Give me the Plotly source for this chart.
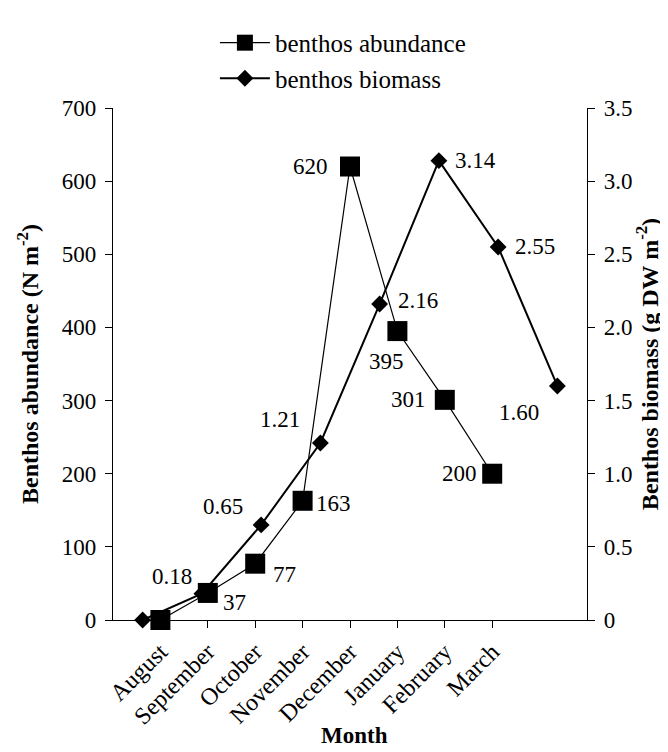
import plotly.graph_objects as go

# ---- data ----
months = ["August", "September", "October", "November", "December", "January", "February", "March"]
abundance = [0, 37, 77, 163, 620, 395, 301, 200]
biomass = [0, 0.18, 0.65, 1.21, 2.16, 3.14, 2.55, 1.60]
abundance_labels = ["", "37", "77", "163", "620", "395", "301", "200"]
biomass_labels = ["", "0.18", "0.65", "1.21", "2.16", "3.14", "2.55", "1.60"]
left_ticks = [0, 100, 200, 300, 400, 500, 600, 700]
right_tickvals = [0, 0.5, 1.0, 1.5, 2.0, 2.5, 3.0, 3.5]
right_ticktext = ["0", "0.5", "1.0", "1.5", "2.0", "2.5", "3.0", "3.5"]

# ---- style (label offsets in px: dx right, dy down) ----
abund_offsets = [None, (27, 10), (29, 11), (31, 3), (-40, 0), (-11, 30), (-36, 0), (-33, 0)]
biom_offsets = [None, (-30, -17), (-38, -18), (-40, -23), (38, -4), (37, 0), (37, 0), (-38, 27)]

FONT = "Liberation Serif"
FS = 23

fig = go.Figure()
fig.add_trace(go.Scatter(
    x=months, y=abundance, name="benthos abundance", mode="lines+markers",
    line=dict(color="black", width=1.2),
    marker=dict(symbol="square", size=20, color="black"),
    legendgroup="a", xaxis="x", yaxis="y", cliponaxis=False))
fig.add_trace(go.Scatter(
    x=months, y=biomass, name="benthos biomass", mode="lines+markers",
    line=dict(color="black", width=2),
    marker=dict(symbol="diamond", size=13, color="black"),
    legendgroup="b", xaxis="x2", yaxis="y2", cliponaxis=False))

annotations = []
for i, (lab, off) in enumerate(zip(abundance_labels, abund_offsets)):
    if off is None:
        continue
    annotations.append(dict(x=months[i], y=abundance[i], xref="x", yref="y", text=lab,
                            showarrow=False, xshift=off[0], yshift=-off[1],
                            font=dict(family=FONT, size=FS, color="black")))
for i, (lab, off) in enumerate(zip(biomass_labels, biom_offsets)):
    if off is None:
        continue
    annotations.append(dict(x=months[i], y=biomass[i], xref="x2", yref="y2", text=lab,
                            showarrow=False, xshift=off[0], yshift=-off[1],
                            font=dict(family=FONT, size=FS, color="black")))

# x-axis title as a paper annotation
annotations.append(dict(x=0.51, y=-0.2256, xref="paper", yref="paper", text="<b>Month</b>",
                        showarrow=False, xanchor="center", yanchor="middle",
                        font=dict(family=FONT, size=23, color="black")))

axis_common = dict(showline=True, linecolor="black", linewidth=1.3, showgrid=False,
                   zeroline=False, ticks="outside", ticklen=7, tickcolor="black",
                   tickwidth=1.3, ticklabelstandoff=4,
                   tickfont=dict(family=FONT, size=FS, color="black"))

fig.update_layout(
    width=668, height=752,
    margin=dict(l=105, r=89, t=89, b=140),
    paper_bgcolor="white", plot_bgcolor="white",
    font=dict(family=FONT, size=FS, color="black"),
    showlegend=True,
    legend=dict(x=0.215, y=1.172, xanchor="left", yanchor="top",
                font=dict(family=FONT, size=25, color="black"),
                bgcolor="rgba(0,0,0,0)", itemwidth=50, tracegroupgap=4,
                traceorder="normal"),
    xaxis=dict(type="category", categoryorder="array", categoryarray=months,
               range=[-1, 9], tickangle=-45, automargin=False,
               **{**axis_common, "tickfont": dict(family=FONT, size=24, color="black"),
                  "ticklabelstandoff": 0}),
    xaxis2=dict(type="category", categoryorder="array", categoryarray=months,
                range=[-0.5, 7.5], overlaying="x", visible=False),
    yaxis=dict(range=[0, 700], tickvals=left_ticks, automargin=False,
               title=dict(text="<b>Benthos abundance (N m<sup>-2</sup>)</b>",
                          font=dict(family=FONT, size=24, color="black"), standoff=16),
               **axis_common),
    yaxis2=dict(range=[0, 3.5], tickvals=right_tickvals, ticktext=right_ticktext,
                overlaying="y", side="right", anchor="x", automargin=False,
                title=dict(text="<b>Benthos biomass (g DW m<sup>-2</sup>)</b>",
                           font=dict(family=FONT, size=24, color="black"), standoff=4),
                **axis_common),
    annotations=annotations,
)

fig.write_html("out.html")
